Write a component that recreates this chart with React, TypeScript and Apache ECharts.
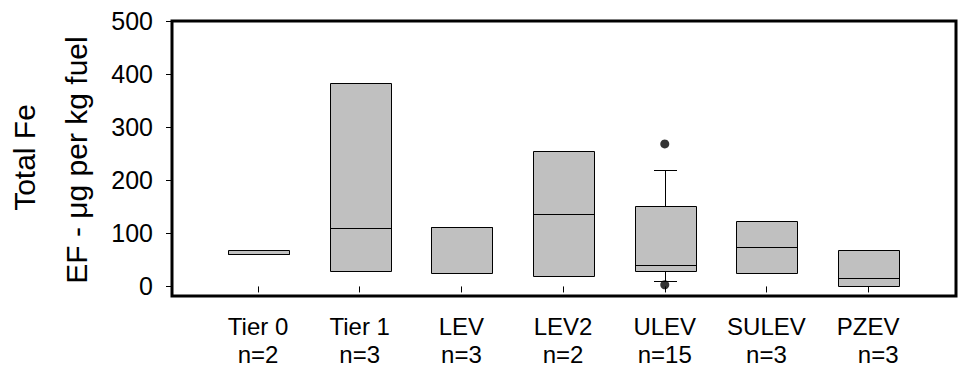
import React, { useEffect, useRef } from "react";
import * as echarts from "echarts";

const categories = ["Tier 0", "Tier 1", "LEV", "LEV2", "ULEV", "SULEV", "PZEV"];
const sampleSizes = ["n=2", "n=3", "n=3", "n=2", "n=15", "n=3", "\u00a0\u00a0\u00a0n=3"];
const whiskerLow = [61, 29.6, 25.8, 20.2, 10.8, 25.8, 0];
const quartile1 = [61, 29.6, 25.8, 20.2, 29.6, 25.8, 0];
const medians = [61, 110.8, 112.6, 137, 41, 74, 16.4];
const quartile3 = [69, 384, 112.6, 256, 152, 124, 69];
const whiskerHigh = [69, 384, 112.6, 256, 220, 124, 69];
const outlierGroup = [5, 5];
const outlierValues = [268.5, 3.2];
const yTicks = [0, 100, 200, 300, 400, 500];
const yTitleTop = "Total Fe";
const yTitleBottom = "EF - \u03bcg per kg fuel";

const FONT = '"Liberation Sans", Arial, sans-serif';

export default function App() {
  const ref = useRef<HTMLDivElement>(null);
  useEffect(() => {
    if (!ref.current) return;
    const chart = echarts.init(ref.current, undefined, { renderer: "svg" });
    const positions = categories.map((_, i) => i + 1);
    const boxData = positions.map((x, i) => [
      x,
      whiskerLow[i],
      quartile1[i],
      medians[i],
      quartile3[i],
      whiskerHigh[i],
    ]);
    const outlierData = outlierGroup.map((g, i) => [g, outlierValues[i]]);
    const px = (v: number) => Math.round(v) + 0.5;

    chart.setOption({
      animation: false,
      backgroundColor: "#fff",
      textStyle: { fontFamily: FONT, color: "#000" },
      grid: {
        left: 172,
        right: 12,
        top: 21,
        bottom: 78,
        show: true,
        borderWidth: 3,
        borderColor: "#000",
        backgroundColor: "transparent",
      },
      xAxis: {
        type: "value",
        min: 0.154,
        max: 7.864,
        axisLine: { show: false },
        splitLine: { show: false },
        axisTick: {
          show: true,
          inside: false,
          length: 6,
          lineStyle: { color: "#000", width: 1 },
          customValues: positions,
        },
        axisLabel: {
          customValues: positions,
          margin: 16,
          fontSize: 24,
          lineHeight: 28,
          color: "#000",
          fontFamily: FONT,
          formatter: (v: number) => {
            const i = Math.round(v) - 1;
            return categories[i] + "\n" + sampleSizes[i];
          },
        },
      },
      yAxis: {
        type: "value",
        min: -18,
        max: 500,
        axisLine: { show: false },
        splitLine: { show: false },
        axisTick: {
          show: true,
          inside: false,
          length: 6,
          lineStyle: { color: "#000", width: 1 },
          customValues: yTicks,
        },
        axisLabel: {
          customValues: yTicks,
          margin: 19,
          fontSize: 25,
          color: "#000",
          fontFamily: FONT,
        },
      },
      graphic: [
        {
          type: "text",
          x: 24,
          y: 157.5,
          rotation: Math.PI / 2,
          style: {
            text: yTitleTop,
            font: `30px ${FONT}`,
            fill: "#000",
            align: "center",
            verticalAlign: "middle",
          },
        },
        {
          type: "text",
          x: 76,
          y: 160,
          rotation: Math.PI / 2,
          style: {
            text: yTitleBottom,
            font: `30px ${FONT}`,
            fill: "#000",
            align: "center",
            verticalAlign: "middle",
          },
        },
      ],
      series: [
        {
          type: "custom",
          data: boxData,
          encode: { x: 0, y: [1, 2, 3, 4, 5] },
          renderItem: (params: any, api: any) => {
            const x = api.value(0);
            const lo = api.value(1);
            const q1 = api.value(2);
            const med = api.value(3);
            const q3 = api.value(4);
            const hi = api.value(5);
            const band = api.size([1, 0])[0];
            const bw = Math.round(band * 0.6);
            const cw = Math.round(band * 0.23);
            const cx = px(api.coord([x, 0])[0]);
            const yTop = px(api.coord([x, q3])[1]);
            const yBot = px(api.coord([x, q1])[1]);
            const yMed = px(api.coord([x, med])[1]);
            const yHi = px(api.coord([x, hi])[1]);
            const yLo = px(api.coord([x, lo])[1]);
            const left = Math.round(cx - bw / 2) + 0.5;
            const lineStyle = { stroke: "#000", lineWidth: 1 };
            const children: any[] = [];
            if (hi > q3) {
              children.push({ type: "line", shape: { x1: cx, y1: yHi, x2: cx, y2: yTop }, style: lineStyle });
              children.push({ type: "line", shape: { x1: cx - cw / 2, y1: yHi, x2: cx + cw / 2, y2: yHi }, style: lineStyle });
            }
            if (lo < q1) {
              children.push({ type: "line", shape: { x1: cx, y1: yBot, x2: cx, y2: yLo }, style: lineStyle });
              children.push({ type: "line", shape: { x1: cx - cw / 2, y1: yLo, x2: cx + cw / 2, y2: yLo }, style: lineStyle });
            }
            children.push({
              type: "rect",
              shape: { x: left, y: yTop, width: bw, height: yBot - yTop },
              style: { fill: "#c0c0c0", stroke: "#000", lineWidth: 1 },
            });
            children.push({
              type: "line",
              shape: { x1: left, y1: yMed, x2: left + bw, y2: yMed },
              style: lineStyle,
            });
            return { type: "group", children };
          },
        },
        {
          type: "scatter",
          data: outlierData,
          symbol: "circle",
          symbolSize: 9,
          itemStyle: { color: "#000" },
        },
      ],
    });
    return () => chart.dispose();
  }, []);
  return (
    <div
      ref={ref}
      style={{ position: "fixed", left: 0, top: 0, width: 968, height: 374 }}
    />
  );
}
